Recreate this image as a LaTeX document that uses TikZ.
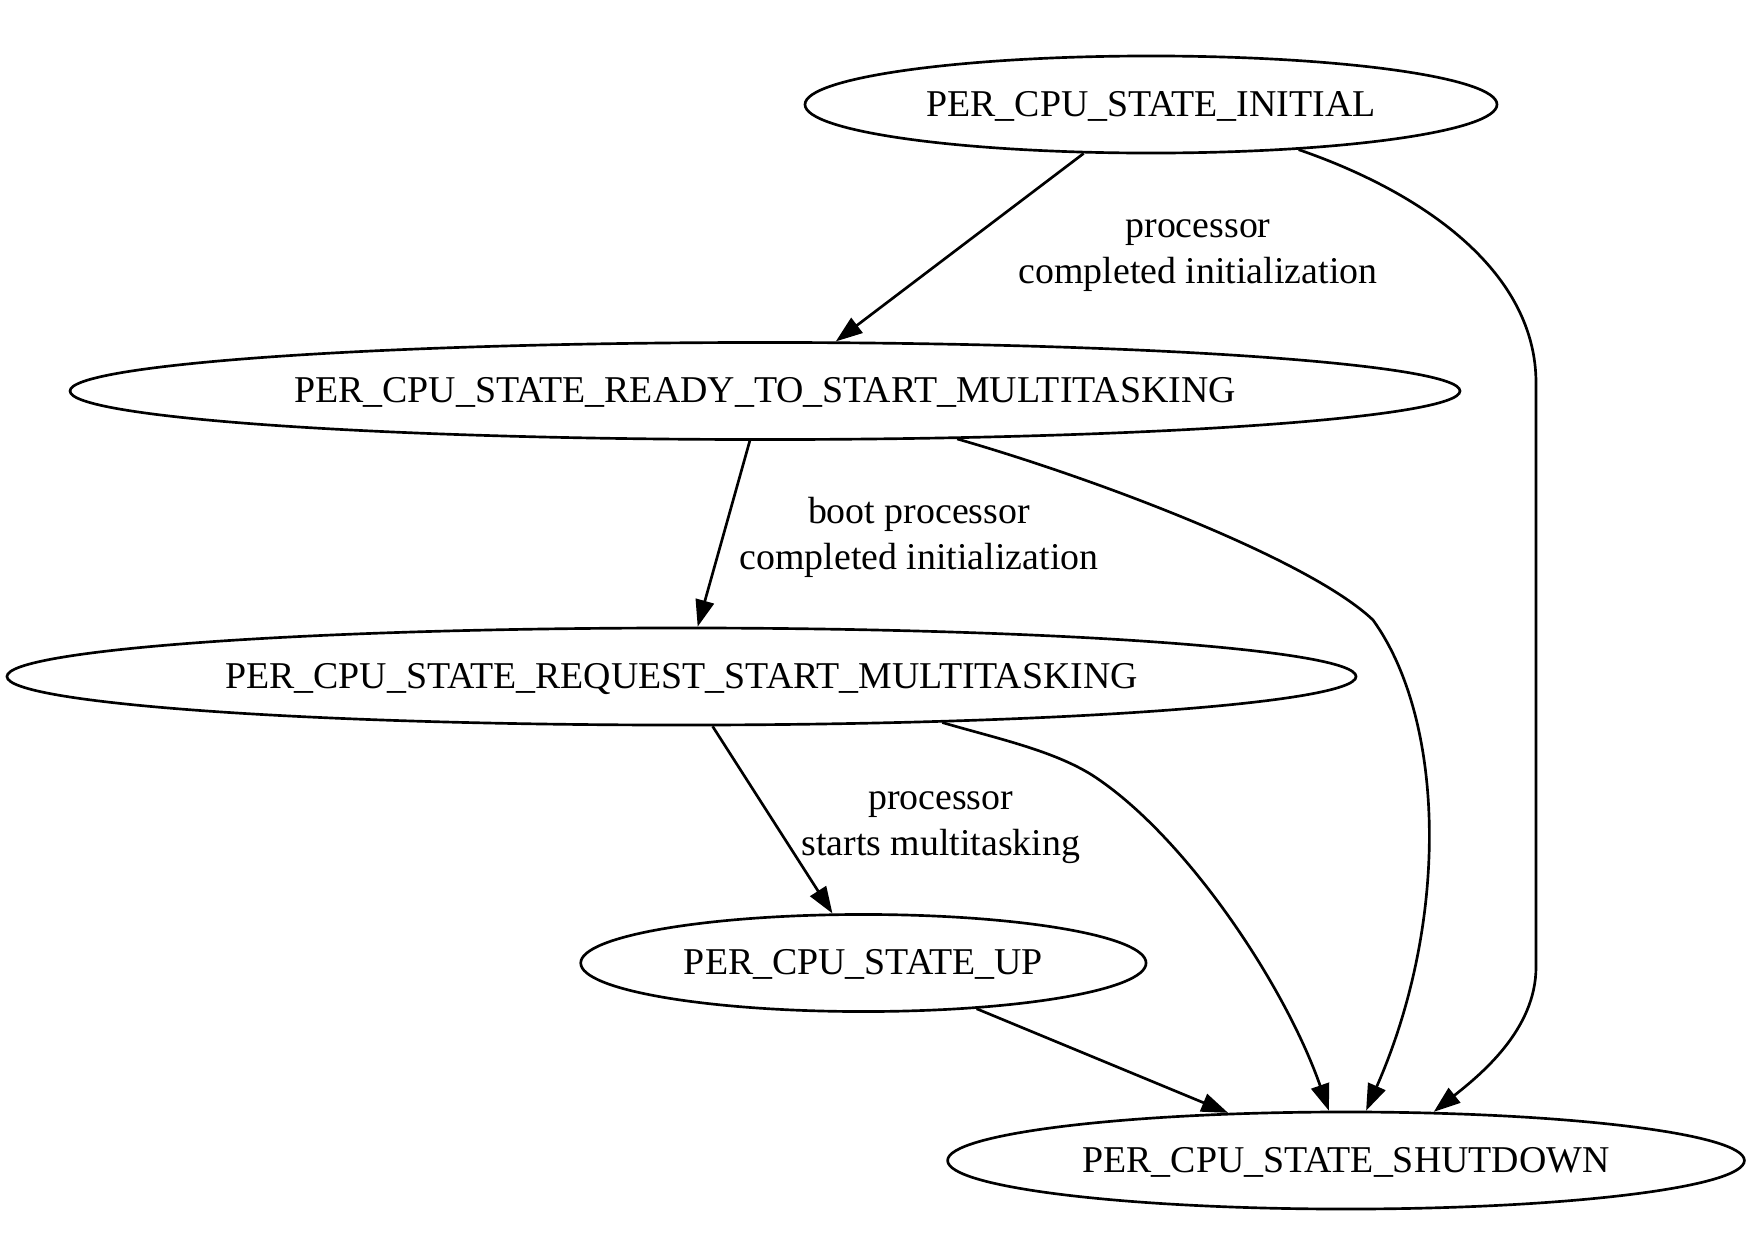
\documentclass[tikz,border=0pt]{standalone}
\usepackage{fontspec}
\setmainfont{Liberation Serif}
\usetikzlibrary{arrows.meta,shapes.geometric}
\begin{document}
\begin{tikzpicture}[x=0.375pt,y=-0.375pt,
  state/.style={ellipse,draw,line width=1pt,inner sep=0pt,minimum height=36.4pt,
    font=\fontsize{14.2}{17}\selectfont,text height=10.4pt,text depth=1.77pt},
  edge/.style={draw,line width=1pt,-{Triangle[length=10pt,width=7pt]}},
  elabel/.style={inner sep=0pt,anchor=north,align=center,font=\fontsize{14.2}{17}\selectfont}]
\useasboundingbox (0,0) rectangle (1756,1250);
\node[state,minimum width=259.5pt] (ini) at (1151,104.5) {PER\_CPU\_STATE\_INITIAL};
\node[state,minimum width=521.25pt] (rdy) at (765,391) {PER\_CPU\_STATE\_READY\_TO\_START\_MULTITASKING};
\node[state,minimum width=505.9pt] (req) at (681.5,676.5) {PER\_CPU\_STATE\_REQUEST\_START\_MULTITASKING};
\node[state,minimum width=212pt] (up) at (863.4,963) {PER\_CPU\_STATE\_UP};
\node[state,minimum width=298.8pt] (sd) at (1346,1160.5) {PER\_CPU\_STATE\_SHUTDOWN};

\draw[edge] (ini.216.7) -- (rdy.35.7);
\draw[edge] (rdy.253.7) -- (req.72.4);
\draw[edge] (req.302.4) -- (up.122.2);
\draw[edge] (up.338.1) -- (sd.158.1);
\draw[edge] (req.350.2) .. controls (995,738) and (1052,750) .. (1092,775)
  .. controls (1185,835) and (1285,985) .. (sd.109.9);
\draw[edge] (rdy.346.3) .. controls (1100,480) and (1310,560) .. (1373,620)
  .. controls (1445,720) and (1450,920) .. (sd.68);
\draw[edge] (ini.343.7) .. controls (1430,195) and (1536,275) .. (1536,383)
  -- (1536,967) .. controls (1536,1030) and (1480,1075) .. (sd.29.7);

\node[elabel] (l1) at (1198,205.5) {\strut processor\\\strut completed initialization};
\node[elabel] (l2) at (919,491.5) {\strut boot processor\\\strut completed initialization};
\node[elabel] (l3) at (940.7,777.5) {\strut processor\\\strut starts multitasking};
\end{tikzpicture}
\end{document}
